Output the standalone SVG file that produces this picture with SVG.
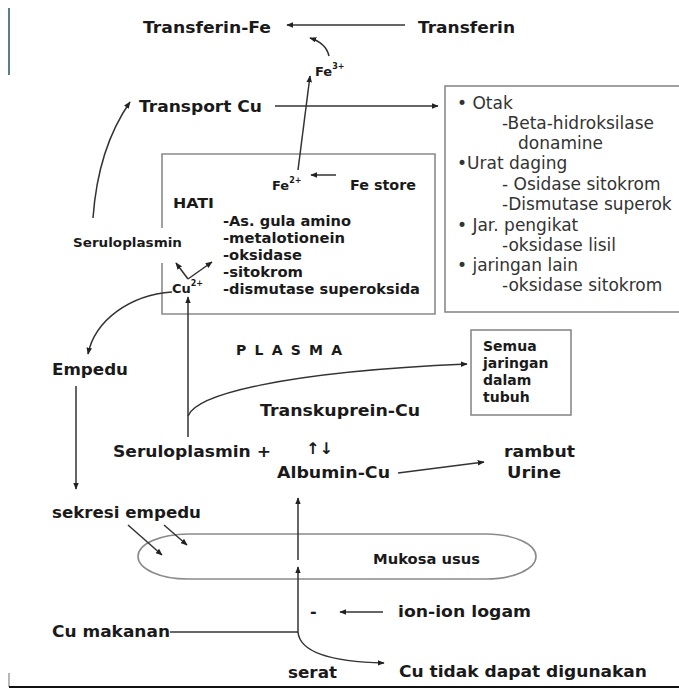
<svg xmlns="http://www.w3.org/2000/svg" width="679" height="689" viewBox="0 0 679 689">
<style>
text{font-family:"DejaVu Sans",Verdana,sans-serif;fill:#1a1a1a}
.b{font-weight:bold;font-size:16px}
.m{font-weight:bold;font-size:14px}
.s{font-weight:bold;font-size:13px}
.sup{font-weight:bold;font-size:8px}
.r{font-size:17px;fill:#333}
.box{fill:none;stroke:#8a8a8a;stroke-width:1.6}
.c{fill:none;stroke:#333;stroke-width:1.5}
.a{marker-end:url(#ah)}
</style>
<defs>
<marker id="ah" viewBox="0 0 10 8" refX="9" refY="4" markerWidth="7" markerHeight="5.6" markerUnits="userSpaceOnUse" orient="auto"><path d="M0,0 L10,4 L0,8 z" fill="#222"/></marker>
</defs>
<rect width="679" height="689" fill="#fff"/>
<line x1="9" y1="8" x2="9" y2="75" stroke="#5a7f8a" stroke-width="2"/>
<line x1="9" y1="673" x2="9" y2="687" stroke="#888" stroke-width="1.2"/>
<line x1="9" y1="687" x2="679" y2="687" stroke="#111" stroke-width="2"/>

<g id="transferin-fe"><text class="b" x="143" y="33" textLength="128" lengthAdjust="spacingAndGlyphs">Transferin-Fe</text></g>
<g id="transferin"><text class="b" x="418" y="33" textLength="97" lengthAdjust="spacingAndGlyphs">Transferin</text></g>
<g id="fe3"><text class="s" x="315" y="76">Fe<tspan class="sup" dy="-7">3+</tspan></text></g>
<g id="transport-cu"><text class="b" x="139" y="112" textLength="123" lengthAdjust="spacingAndGlyphs">Transport Cu</text></g>

<g id="tissues">
<rect class="box" x="445" y="86" width="260" height="226"/>
<text class="r" x="457" y="109">• Otak</text>
<text class="r" x="502" y="129">-Beta-hidroksilase</text>
<text class="r" x="518" y="149">donamine</text>
<text class="r" x="457" y="169">•Urat daging</text>
<text class="r" x="502" y="190">- Osidase sitokrom</text>
<text class="r" x="502" y="210">-Dismutase superok</text>
<text class="r" x="457" y="231">• Jar. pengikat</text>
<text class="r" x="502" y="251">-oksidase lisil</text>
<text class="r" x="457" y="271">• jaringan lain</text>
<text class="r" x="502" y="291">-oksidase sitokrom</text>
</g>

<g id="hati">
<path class="box" d="M162,228 L162,154 L435,154 L435,314 L162,314 L162,263"/>
<text class="m" x="173" y="208" textLength="41" lengthAdjust="spacingAndGlyphs">HATI</text>
<text class="m" x="223" y="226" textLength="128" lengthAdjust="spacingAndGlyphs">-As. gula amino</text>
<text class="m" x="223" y="243" textLength="122" lengthAdjust="spacingAndGlyphs">-metalotionein</text>
<text class="m" x="223" y="260" textLength="79" lengthAdjust="spacingAndGlyphs">-oksidase</text>
<text class="m" x="223" y="277" textLength="80" lengthAdjust="spacingAndGlyphs">-sitokrom</text>
<text class="m" x="223" y="294" textLength="197" lengthAdjust="spacingAndGlyphs">-dismutase superoksida</text>
</g>
<g id="fe2"><text class="s" x="272" y="190">Fe<tspan class="sup" dy="-7">2+</tspan></text></g>
<g id="fe-store"><text class="m" x="350" y="190" textLength="66" lengthAdjust="spacingAndGlyphs">Fe store</text></g>
<g id="cu2"><text class="s" x="172" y="293">Cu<tspan class="sup" dy="-7">2+</tspan></text></g>
<g id="seruloplasmin-hati"><text class="s" x="73" y="247" textLength="109" lengthAdjust="spacingAndGlyphs">Seruloplasmin</text></g>

<g id="plasma"><text class="m" x="236" y="355" font-size="15" textLength="106" lengthAdjust="spacing">P L A S M A</text></g>
<g id="semua">
<rect class="box" x="471" y="330" width="100" height="85"/>
<text class="m" x="483" y="351" font-size="14.5">Semua</text>
<text class="m" x="483" y="368" font-size="14.5">jaringan</text>
<text class="m" x="483" y="385" font-size="14.5">dalam</text>
<text class="m" x="483" y="402" font-size="14.5">tubuh</text>
</g>
<g id="empedu"><text class="b" x="52" y="375" textLength="76" lengthAdjust="spacingAndGlyphs">Empedu</text></g>
<g id="transkuprein"><text class="b" x="260" y="416" textLength="160" lengthAdjust="spacingAndGlyphs">Transkuprein-Cu</text></g>
<g id="seruloplasmin-plus"><text class="b" x="113" y="457" textLength="158" lengthAdjust="spacingAndGlyphs">Seruloplasmin +</text></g>
<g id="eq"><text x="306" y="454" font-size="16" font-weight="bold">↑↓</text></g>
<g id="albumin"><text class="b" x="277" y="478" textLength="113" lengthAdjust="spacingAndGlyphs">Albumin-Cu</text></g>
<g id="rambut"><text class="b" x="504" y="457" textLength="71" lengthAdjust="spacingAndGlyphs">rambut</text><text class="b" x="507" y="478" textLength="54" lengthAdjust="spacingAndGlyphs">Urine</text></g>
<g id="sekresi"><text class="b" x="52" y="518" textLength="149" lengthAdjust="spacingAndGlyphs">sekresi empedu</text></g>
<g id="mukosa">
<rect class="box" x="138" y="534" width="398" height="45" rx="50" ry="22.5"/>
<text class="m" x="373" y="564" textLength="107" lengthAdjust="spacingAndGlyphs">Mukosa usus</text>
</g>
<g id="minus"><text class="b" x="310" y="617">-</text></g>
<g id="ion"><text class="b" x="398" y="617" textLength="133" lengthAdjust="spacingAndGlyphs">ion-ion logam</text></g>
<g id="cu-makanan"><text class="b" x="52" y="637" textLength="118" lengthAdjust="spacingAndGlyphs">Cu makanan</text></g>
<g id="serat"><text class="b" x="288" y="678" textLength="49" lengthAdjust="spacingAndGlyphs">serat</text></g>
<g id="cu-tidak"><text class="b" x="399" y="677" textLength="248" lengthAdjust="spacingAndGlyphs">Cu tidak dapat digunakan</text></g>

<g id="connectors">
<path class="c a" d="M405,25 L287,25"/>
<path class="c a" d="M329,56 Q326,43 310,38"/>
<path class="c a" d="M298,170 L310,76"/>
<path class="c a" d="M275,106 L438,106"/>
<path class="c a" d="M93,218 Q98,148 130,102"/>
<path class="c a" d="M336,175 L311,175"/>
<path class="c a" d="M188,279 L176,263"/>
<path class="c a" d="M188,279 L212,262"/>
<path class="c a" d="M188,437 L188,297"/>
<path class="c a" d="M188,416 C196,395 280,372 467,364"/>
<path class="c a" d="M172,292 C130,295 95,320 88,354"/>
<path class="c a" d="M76,386 L76,489"/>
<path class="c a" d="M128,525 L162,555"/>
<path class="c a" d="M164,525 L187,545"/>
<path class="c a" d="M298,560 L298,498"/>
<path class="c a" d="M298,632 L298,567"/>
<path class="c" d="M170,632 L298,632"/>
<path class="c a" d="M298,632 C300,655 340,662 384,663"/>
<path class="c a" d="M383,612 L340,612"/>
<path class="c a" d="M398,473 L484,462"/>
</g>
</svg>
